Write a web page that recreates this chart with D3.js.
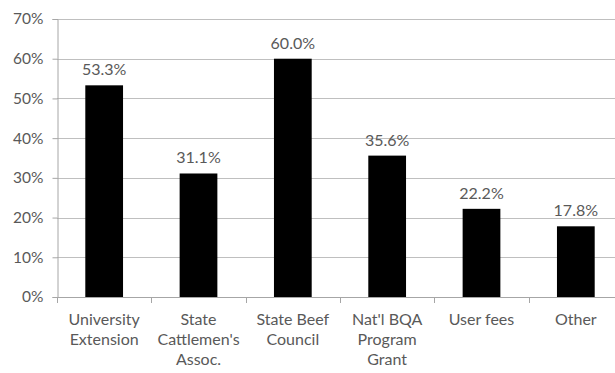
<!DOCTYPE html>
<html>
<head>
<meta charset="utf-8">
<script src="https://cdn.jsdelivr.net/npm/d3@7"></script>
<style>
  body { margin: 0; background: #fff; overflow: hidden; }
  svg text { font-family: Lato, "Open Sans", sans-serif; fill: #595959; }
</style>
</head>
<body>
<div id="chart"></div>
<script>
// data
const categories = ["University Extension", "State Cattlemen's Assoc.", "State Beef Council", "Nat'l BQA Program Grant", "User fees", "Other"];
const labelLines = [["University", "Extension"], ["State", "Cattlemen's", "Assoc."], ["State Beef", "Council"], ["Nat'l BQA", "Program", "Grant"], ["User fees"], ["Other"]];
const values = [53.3, 31.1, 60.0, 35.6, 22.2, 17.8];
const yTicks = [0, 10, 20, 30, 40, 50, 60, 70];

const width = 615, height = 373;
const plotLeft = 57, plotTop = 19, plotBottom = 297, plotRight = 623; // plot runs past the right edge

const svg = d3.select("#chart").append("svg")
    .attr("width", width)
    .attr("height", height);

const xScale = d3.scaleBand().domain(categories).range([plotLeft, plotRight]).paddingInner(0.6).paddingOuter(0.3);
const yScale = d3.scaleLinear().domain([0, 70]).range([plotBottom, plotTop]);

// gridlines
svg.append("g")
    .selectAll("line")
    .data(yTicks)
    .join("line")
    .attr("x1", plotLeft).attr("x2", plotRight)
    .attr("y1", d => Math.round(yScale(d)) + 0.5)
    .attr("y2", d => Math.round(yScale(d)) + 0.5)
    .attr("stroke", "#bfbfbf");

// y axis
const yAxis = svg.append("g")
    .attr("transform", "translate(" + (plotLeft + 0.5) + ",0)")
    .call(d3.axisLeft(yScale).tickValues(yTicks).tickFormat(d => d + "%").tickSize(5).tickPadding(9));
yAxis.select(".domain").attr("stroke", "#a6a6a6");
yAxis.selectAll(".tick line").attr("stroke", "#a6a6a6");
yAxis.selectAll(".tick text").attr("font-size", 15.5).attr("fill", "#595959");

// x axis line + ticks at category boundaries
const boundaries = d3.range(categories.length + 1).map(i => plotLeft + i * (plotRight - plotLeft) / categories.length);
svg.append("line")
    .attr("x1", plotLeft).attr("x2", plotRight)
    .attr("y1", plotBottom + 0.5).attr("y2", plotBottom + 0.5)
    .attr("stroke", "#a6a6a6");
svg.append("g")
    .selectAll("line")
    .data(boundaries)
    .join("line")
    .attr("x1", d => Math.round(d) + 0.5).attr("x2", d => Math.round(d) + 0.5)
    .attr("y1", plotBottom).attr("y2", plotBottom + 6)
    .attr("stroke", "#a6a6a6");

// bars
svg.append("g")
    .selectAll("rect")
    .data(values)
    .join("rect")
    .attr("x", (d, i) => xScale(categories[i]))
    .attr("width", xScale.bandwidth())
    .attr("y", d => yScale(d))
    .attr("height", d => plotBottom - yScale(d))
    .attr("fill", "#000");

// value labels
svg.append("g")
    .selectAll("text")
    .data(values)
    .join("text")
    .attr("x", (d, i) => xScale(categories[i]) + xScale.bandwidth() / 2)
    .attr("y", d => yScale(d) - 10)
    .attr("text-anchor", "middle")
    .attr("font-size", 16)
    .text(d => d.toFixed(1) + "%");

// category labels
const catG = svg.append("g")
    .selectAll("text")
    .data(labelLines)
    .join("text")
    .attr("text-anchor", "middle")
    .attr("font-size", 16)
    .attr("x", (d, i) => xScale(categories[i]) + xScale.bandwidth() / 2);
catG.selectAll("tspan")
    .data(d => d)
    .join("tspan")
    .attr("x", function() { return this.parentNode.getAttribute("x"); })
    .attr("y", (d, j) => 325 + j * 20)
    .text(d => d);
</script>
</body>
</html>
